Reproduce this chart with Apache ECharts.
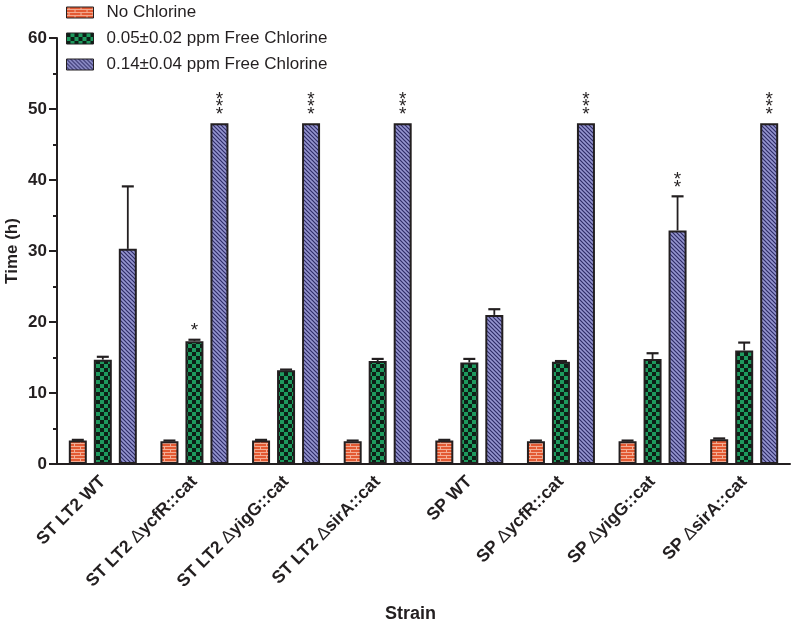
<!DOCTYPE html>
<html>
<head>
<meta charset="utf-8">
<script src="https://cdn.jsdelivr.net/npm/echarts@6/dist/echarts.min.js"></script>
<style>
html,body{margin:0;padding:0;background:#fff;}
#chart{width:796px;height:624px;}
</style>
</head>
<body>
<div id="chart"></div>
<script>
// ---- Data ----
const categories = ['ST LT2 WT','ST LT2 ΔycfR::cat','ST LT2 ΔyigG::cat','ST LT2 ΔsirA::cat','SP WT','SP ΔycfR::cat','SP ΔyigG::cat','SP ΔsirA::cat'];
const seriesNames = ['No Chlorine','0.05±0.02 ppm Free Chlorine','0.14±0.04 ppm Free Chlorine'];
const noChlorine    = [3.3, 3.2, 3.3, 3.2, 3.3, 3.2, 3.2, 3.5];
const noChlorineErr = [0.1, 0.1, 0.1, 0.1, 0.1, 0.1, 0.1, 0.1];
const lowChlorine    = [14.7, 17.3, 13.2, 14.5, 14.3, 14.4, 14.8, 16.0];
const lowChlorineErr = [0.4, 0.2, 0.1, 0.3, 0.5, 0.1, 0.8, 1.1];
const highChlorine    = [30.3, 48, 48, 48, 21.0, 48, 32.9, 48];
const highChlorineErr = [8.8, 0, 0, 0, 0.8, 0, 4.8, 0];
const noChlorineSig   = ['', '', '', '', '', '', '', ''];
const lowChlorineSig  = ['', '*', '', '', '', '', '', ''];
const highChlorineSig = ['', '***', '***', '***', '', '***', '**', '***'];
const yMin = 0, yMax = 60, yInterval = 10;

// ---- Styles ----
const FONT = 'Liberation Sans, Arial, sans-serif';
const INK = '#231f20';
const BAR_W = 18, BAR_GAP = 7;

function makePattern(w, h, draw) {
  const c = document.createElement('canvas');
  c.width = w; c.height = h;
  draw(c.getContext('2d'));
  return { image: c, repeat: 'repeat' };
}
const brick = makePattern(12, 6, function (g) {
  g.fillStyle = '#e35a33'; g.fillRect(0, 0, 12, 6);
  g.fillStyle = '#f4ad94';
  g.fillRect(0, 2, 12, 1); g.fillRect(0, 5, 12, 1);
  g.fillRect(2, 0, 1, 2); g.fillRect(8, 3, 1, 2);
});
const checker = makePattern(8, 8, function (g) {
  g.fillStyle = '#1e9a5e'; g.fillRect(0, 0, 8, 8);
  g.fillStyle = '#0d1f16';
  g.fillRect(0, 0, 4, 4); g.fillRect(4, 4, 4, 4);
});
const hatch = makePattern(4, 4, function (g) {
  g.fillStyle = '#9696d0'; g.fillRect(0, 0, 4, 4);
  g.strokeStyle = '#2e2c66'; g.lineWidth = 1.2;
  g.beginPath();
  g.moveTo(-1, -1); g.lineTo(5, 5);
  g.moveTo(-1, 3); g.lineTo(1, 5);
  g.moveTo(3, -1); g.lineTo(5, 1);
  g.stroke();
});
const fills = [brick, checker, hatch];
const values = [noChlorine, lowChlorine, highChlorine];
const errs = [noChlorineErr, lowChlorineErr, highChlorineErr];
const sigs = [noChlorineSig, lowChlorineSig, highChlorineSig];

const barSeries = seriesNames.map(function (name, k) {
  return {
    name: name, type: 'bar', data: values[k],
    barWidth: BAR_W, barGap: (BAR_GAP / BAR_W * 100) + '%',
    itemStyle: { color: fills[k], borderColor: INK, borderWidth: 2 },
    z: 2
  };
});

const errSeries = seriesNames.map(function (name, k) {
  const data = categories.map(function (c, i) { return [i, values[k][i], errs[k][i]]; });
  return {
    name: 'err' + k, type: 'custom', data: data, z: 3,
    renderItem: function (params, api) {
      const i = api.value(0), v = api.value(1), e = api.value(2);
      const sig = sigs[k][i];
      const off = (k - 1) * (BAR_W + BAR_GAP);
      const base = api.coord([i, v]);
      const top = api.coord([i, v + e]);
      const x = base[0] + off;
      const children = [];
      if (e > 0) {
        children.push({ type: 'line', shape: { x1: x, y1: base[1], x2: x, y2: top[1] }, style: { stroke: INK, lineWidth: 1.8 } });
        children.push({ type: 'line', shape: { x1: x - 6, y1: top[1], x2: x + 6, y2: top[1] }, style: { stroke: INK, lineWidth: 2.2 } });
      }
      if (sig) {
        children.push({
          type: 'text',
          style: {
            x: x, y: top[1] - 5,
            text: sig.split('').join('\n'),
            fontSize: 19, lineHeight: 7.5, fontFamily: FONT,
            fill: INK, align: 'center', verticalAlign: 'bottom'
          }
        });
      }
      return { type: 'group', children: children };
    }
  };
});

const chart = echarts.init(document.getElementById('chart'), null, { renderer: 'canvas' });
chart.setOption({
  animation: false,
  backgroundColor: '#ffffff',
  legend: {
    data: seriesNames, orient: 'vertical', left: 66, top: 4, padding: 0,
    icon: 'rect',
    itemWidth: 27, itemHeight: 11, itemGap: 9,
    itemStyle: { borderColor: INK, borderWidth: 1 },
    textStyle: { fontSize: 17, fontFamily: FONT, color: INK, padding: [0, 0, 0, 8] }
  },
  grid: { left: 57, right: 6, top: 38, bottom: 160, containLabel: false, outerBoundsMode: 'none' },
  xAxis: {
    type: 'category', data: categories,
    name: 'Strain', nameLocation: 'middle', nameGap: 141, nameMoveOverlap: false,
    nameTextStyle: { fontSize: 18, fontWeight: 'bold', fontFamily: FONT, color: INK, padding: [0, 26, 0, 0] },
    axisLine: { lineStyle: { color: INK, width: 2 } },
    axisTick: { alignWithLabel: true, length: 7, lineStyle: { color: INK, width: 2 } },
    axisLabel: {
      rotate: 45, margin: 15, interval: 0,
      formatter: function (val) {
        const p = val.split('Δ');
        return p.length > 1 ? '{b|' + p[0] + '}{d|Δ}{b|' + p[1] + '}' : '{b|' + val + '}';
      },
      rich: {
        b: { fontSize: 17.5, fontWeight: 'bold', fontFamily: FONT, color: INK },
        d: { fontSize: 17.5, fontWeight: 'normal', fontFamily: FONT, color: INK }
      }
    }
  },
  yAxis: {
    type: 'value', min: yMin, max: yMax, interval: yInterval,
    name: 'Time (h)', nameLocation: 'middle', nameGap: 36, nameMoveOverlap: false,
    nameTextStyle: { fontSize: 17, fontWeight: 'bold', fontFamily: FONT, color: INK },
    axisLine: { show: true, lineStyle: { color: INK, width: 2 } },
    axisTick: { show: true, length: 8, lineStyle: { color: INK, width: 2 } },
    minorTick: { show: true, splitNumber: 2, length: 4, lineStyle: { color: INK, width: 2 } },
    splitLine: { show: false },
    axisLabel: { fontSize: 17, fontWeight: 'bold', fontFamily: FONT, color: INK, margin: 10 }
  },
  series: barSeries.concat(errSeries)
});
</script>
</body>
</html>
